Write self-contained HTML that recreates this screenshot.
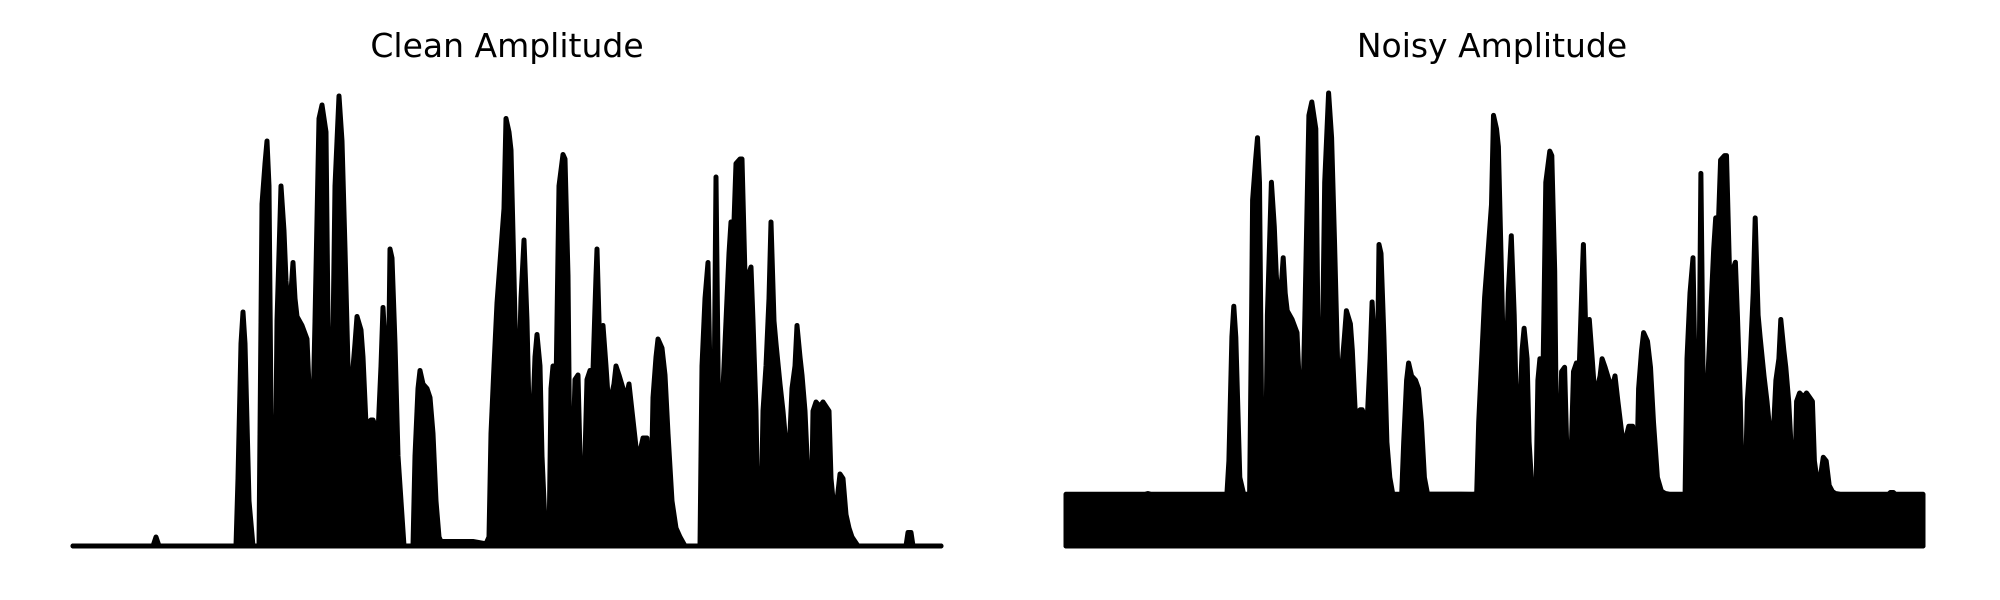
<!DOCTYPE html>
<html><head><meta charset="utf-8"><style>
html,body{margin:0;padding:0;background:#fff;}
svg{display:block;}
text{font-family:"DejaVu Sans","Liberation Sans",sans-serif;}
</style></head><body>
<svg id="chart" width="2000" height="600" viewBox="0 0 2000 600">
  <text x="507" y="57" font-size="33" text-anchor="middle">Clean Amplitude</text>
  <text x="1492" y="57" font-size="33" text-anchor="middle">Noisy Amplitude</text>
  <g id="clean"></g>
  <g id="noisy"></g>
</svg>
<script>
// frame index (time axis, 0..868 frames)
const frames = [0,80,83,86,163,165,168,170,172,176,180,186,188,189,192,194,196,198,200,202,204,208,211,213,216,220,222,224,229,234,237,239,242,246,249,253,255,257,259,262,266,269,272,275,277,279,282,284,288,290,293,298,300,305,308,310,312,313,315,317,319,322,325,328,331,340,342,345,347,350,354,357,360,363,366,368,400,413,416,418,421,424,428,431,433,436,438,441,443,445,448,451,454,456,458,460,462,464,467,469,472,476,478,480,482,484,486,490,492,495,497,500,502,505,507,509,512,514,517,520,523,524,526,528,530,533,536,538,541,543,546,550,553,556,559,563,566,570,574,576,578,580,583,585,589,592,595,599,603,607,612,627,629,632,635,638,641,643,646,649,653,656,658,661,663,667,669,672,675,678,680,683,685,688,690,693,696,698,701,703,707,710,712,716,719,722,724,727,729,732,736,738,740,743,747,750,753,756,758,761,764,767,770,773,776,779,785,833,835,838,840,868];
// clean amplitude envelope (normalized)
const cleanAmp = [0,0,.02,0,0,.15,.45,.52,.45,.1,0,0,.5,.76,.85,.9,.8,.3,.02,.05,.5,.8,.7,.59,.5,.63,.55,.51,.49,.46,.3,.2,.5,.95,.98,.92,.5,.25,.3,.8,1.0,.9,.66,.4,.15,.37,.45,.51,.48,.42,.27,.28,.28,.25,.4,.53,.45,.24,.3,.66,.64,.45,.2,.1,0,0,.2,.35,.39,.36,.35,.33,.25,.1,.02,.01,.01,.005,.02,.25,.4,.54,.66,.75,.95,.92,.88,.6,.4,.3,.55,.68,.5,.3,.1,.3,.42,.47,.4,.2,.05,0,.35,.4,.2,.5,.8,.87,.86,.6,.15,.2,.37,.38,.2,.06,.2,.37,.39,.39,.6,.66,.5,.3,.49,.4,.3,.33,.36,.4,.38,.35,.33,.36,.3,.22,.2,.24,.24,.15,.1,.33,.42,.46,.44,.38,.25,.1,.04,.02,0,0,.4,.55,.63,.25,.3,.82,.2,.3,.5,.65,.72,.72,.85,.86,.86,.6,.6,.62,.5,.3,.05,.05,.3,.4,.55,.72,.5,.45,.36,.3,.25,.2,.35,.4,.49,.42,.38,.3,.1,.02,.3,.32,.31,.32,.31,.3,.15,.08,.1,.16,.15,.07,.04,.02,0,0,.03,.03,0,0];
const noiseLevel = 0.115;
const noisyAmp = cleanAmp.map(v => Math.sqrt(v*v + noiseLevel*noiseLevel));

const NS='http://www.w3.org/2000/svg';
function drawPanel(gid, x0, x1, values, name){
  const g=document.getElementById(gid);
  const baseY=546, topY=96;
  const fmax=868;
  const sx=f=>x0+(f/fmax)*(x1-x0);
  const sy=v=>baseY-v*(baseY-topY);
  let d='M'+sx(frames[0])+','+baseY;
  for(let i=0;i<frames.length;i++) d+=' L'+sx(frames[i]).toFixed(1)+','+sy(values[i]).toFixed(1);
  d+=' L'+sx(frames[frames.length-1])+','+baseY+' Z';
  const p=document.createElementNS(NS,'path');
  p.setAttribute('d',d);
  p.setAttribute('fill','#000');
  p.setAttribute('stroke','#000');
  p.setAttribute('stroke-width','5');
  p.setAttribute('stroke-linejoin','round');
  
  
  g.appendChild(p);
  const b=document.createElementNS(NS,'line');
  b.setAttribute('x1',x0);b.setAttribute('x2',x1);
  b.setAttribute('y1',baseY);b.setAttribute('y2',baseY);
  b.setAttribute('stroke','#000');b.setAttribute('stroke-width','5');b.setAttribute('stroke-linecap','round');
  
  
  g.appendChild(b);
}
drawPanel('clean',73,941,cleanAmp,'clean');
drawPanel('noisy',1066,1923,noisyAmp,'noisy');
</script>
</body></html>
